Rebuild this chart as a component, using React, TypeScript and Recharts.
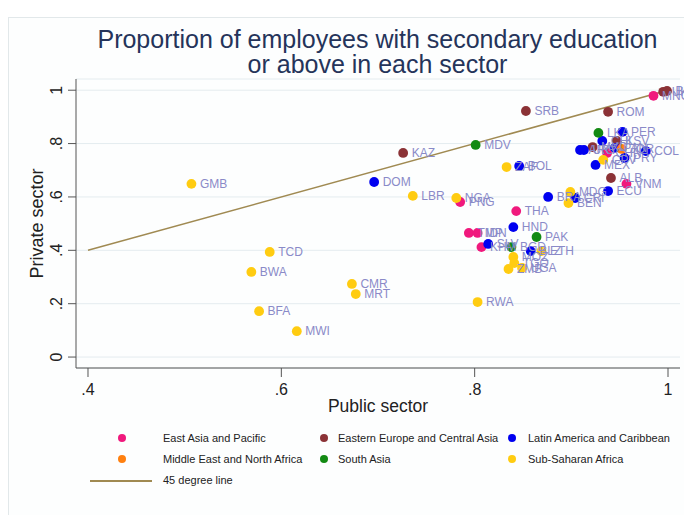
import React from "react";
import {
  ScatterChart,
  Scatter,
  XAxis,
  YAxis,
  CartesianGrid,
  ReferenceLine,
  LabelList,
} from "recharts";

type Pt = [string, number, number];

const eastAsiaPacific: Pt[] = [
  ["MNG", 0.985, 0.979],
  ["VNM", 0.957, 0.649],
  ["THA", 0.843, 0.547],
  ["PNG", 0.785, 0.581],
  ["TMP", 0.794, 0.465],
  ["IDN", 0.803, 0.465],
  ["KHM", 0.807, 0.412],
  ["CHN", 0.937, 0.765],
];
const easternEurope: Pt[] = [
  ["SRB", 0.853, 0.922],
  ["ROM", 0.938, 0.919],
  ["KAZ", 0.726, 0.765],
  ["ALB", 0.941, 0.671],
  ["MKD", 0.922, 0.787],
  ["KSV", 0.947, 0.81],
  ["UKR", 0.995, 0.994],
  ["BLR", 0.999, 0.997],
];
const latinAmerica: Pt[] = [
  ["DOM", 0.696, 0.656],
  ["BOL", 0.846, 0.716],
  ["BRA", 0.876, 0.6],
  ["CRI", 0.904, 0.596],
  ["ECU", 0.938, 0.622],
  ["MEX", 0.925, 0.72],
  ["HND", 0.84, 0.487],
  ["SLV", 0.814, 0.424],
  ["BLZ", 0.858, 0.397],
  ["PER", 0.953, 0.844],
  ["CHL", 0.932, 0.81],
  ["ARG", 0.909, 0.776],
  ["URY", 0.913, 0.776],
  ["PAN", 0.945, 0.784],
  ["COL", 0.977, 0.772],
  ["PRY", 0.955, 0.746],
];
const middleEast: Pt[] = [["JOR", 0.952, 0.78]];
const southAsia: Pt[] = [
  ["MDV", 0.801, 0.795],
  ["LKA", 0.928, 0.84],
  ["PAK", 0.864, 0.45],
  ["BGD", 0.838, 0.412],
];
const subSaharan: Pt[] = [
  ["GMB", 0.507, 0.649],
  ["LBR", 0.736, 0.604],
  ["NGA", 0.781, 0.596],
  ["ZAF", 0.833, 0.712],
  ["MDG", 0.899, 0.619],
  ["BEN", 0.897, 0.577],
  ["CPV", 0.933, 0.739],
  ["ETH", 0.869, 0.397],
  ["MOZ", 0.84, 0.375],
  ["TGO", 0.841, 0.352],
  ["ZMB", 0.835, 0.33],
  ["UGA", 0.849, 0.334],
  ["RWA", 0.803, 0.206],
  ["TCD", 0.588, 0.394],
  ["BWA", 0.569, 0.319],
  ["CMR", 0.673, 0.274],
  ["MRT", 0.677, 0.236],
  ["BFA", 0.577, 0.172],
  ["MWI", 0.616, 0.097],
];

const diagonal = [
  { x: 0.4, y: 0.4 },
  { x: 1, y: 1 },
];

const xTicks = [0.4, 0.6, 0.8, 1];
const yTicks = [0, 0.2, 0.4, 0.6, 0.8, 1];
const xDomain: [number, number] = [0.3876, 1.0124];
const yDomain: [number, number] = [-0.041, 1.042];

const series = [
  { name: "East Asia and Pacific", data: eastAsiaPacific, color: "#f0197d" },
  { name: "Eastern Europe and Central Asia", data: easternEurope, color: "#8b3236" },
  { name: "Latin America and Caribbean", data: latinAmerica, color: "#0000f0" },
  { name: "Middle East and North Africa", data: middleEast, color: "#ff8010" },
  { name: "South Asia", data: southAsia, color: "#138a13" },
  { name: "Sub-Saharan Africa", data: subSaharan, color: "#ffcc11" },
];

const FONT = "Arial, 'Liberation Sans', sans-serif";
const LABEL_COLOR = "#8a8ac8";
const LINE_COLOR = "#a08a52";

const fmt = (v: number) => {
  if (v === 0) return "0";
  if (v === 1) return "1";
  return "." + String(Math.round(v * 10));
};

const YTick = (props: any) => {
  const { x, y, payload } = props;
  const bx = x - 4;
  return (
    <text
      x={bx}
      y={y}
      transform={`rotate(-90, ${bx}, ${y})`}
      textAnchor="middle"
      fontSize={16}
      fill="#222"
      fontFamily={FONT}
    >
      {fmt(payload.value)}
    </text>
  );
};

const XTick = (props: any) => {
  const { x, y, payload } = props;
  return (
    <text
      x={x}
      y={y + 16}
      textAnchor="middle"
      fontSize={16}
      fill="#222"
      fontFamily={FONT}
    >
      {fmt(payload.value)}
    </text>
  );
};

const legendCols = [
  { dot: 122, text: 163 },
  { dot: 324, text: 338 },
  { dot: 512, text: 528 },
];
const legendRows = [438, 459];

export default function App() {
  return (
    <div
      style={{
        position: "absolute",
        left: 0,
        top: 0,
        width: 684,
        height: 515,
        background: "#fff",
        overflow: "hidden",
        fontFamily: FONT,
      }}
    >
      <div
        style={{
          position: "absolute",
          left: 8,
          top: 17,
          right: 0,
          bottom: 0,
          borderLeft: "1px solid #e2e8ea",
          borderTop: "1px solid #e2e8ea",
          background: "#fdfefe",
        }}
      />
      <div
        style={{
          position: "absolute",
          left: 0,
          width: 755,
          top: 27,
          textAlign: "center",
          fontSize: 25,
          lineHeight: "25px",
          color: "#25345a",
        }}
      >
        Proportion of employees with secondary education
        <br />
        or above in each sector
      </div>
      <div style={{ position: "absolute", left: 0, top: 0 }}>
        <ScatterChart
          width={684}
          height={420}
          margin={{ top: 79, right: 4, bottom: 22, left: 16 }}
        >
          <CartesianGrid
            horizontal={true}
            vertical={false}
            stroke="#e4ecef"
            strokeWidth={1}
          />
          <XAxis
            type="number"
            dataKey="x"
            domain={xDomain}
            ticks={xTicks}
            allowDataOverflow
            height={30}
            tickSize={9}
            tickLine={{ stroke: "#555" }}
            axisLine={{ stroke: "#555" }}
            tick={<XTick />}
            label={{
              value: "Public sector",
              position: "bottom",
              offset: 2,
              fontSize: 17.5,
              fill: "#222",
              fontFamily: FONT,
            }}
          />
          <YAxis
            type="number"
            dataKey="y"
            domain={yDomain}
            ticks={yTicks}
            allowDataOverflow
            width={60}
            tickSize={8}
            tickMargin={2}
            tickLine={{ stroke: "#555" }}
            axisLine={{ stroke: "#555" }}
            tick={<YTick />}
            label={{
              value: "Private sector",
              angle: -90,
              position: "center",
              dx: -9,
              fontSize: 18,
              fill: "#222",
              fontFamily: FONT,
            }}
          />
          <ReferenceLine
            segment={diagonal}
            stroke={LINE_COLOR}
            strokeWidth={1.5}
            ifOverflow="visible"
          />
          {series.map((s) => (
            <Scatter
              key={s.name}
              name={s.name}
              data={s.data.map(([name, x, y]) => ({ name, x, y }))}
              isAnimationActive={false}
              shape={(p: any) => (
                <circle cx={p.cx} cy={p.cy} r={4.9} fill={s.color} />
              )}
            >
              <LabelList
                dataKey="name"
                position="right"
                offset={4}
                fill={LABEL_COLOR}
                fontSize={12}
                fontFamily={FONT}
              />
            </Scatter>
          ))}
        </ScatterChart>
      </div>
      {series.map((s, i) => {
        const col = legendCols[i % 3];
        const row = legendRows[Math.floor(i / 3)];
        return (
          <React.Fragment key={s.name}>
            <div
              style={{
                position: "absolute",
                left: col.dot - 4,
                top: row - 4,
                width: 8,
                height: 8,
                borderRadius: 4,
                background: s.color,
              }}
            />
            <div
              style={{
                position: "absolute",
                left: col.text,
                top: row - 7,
                fontSize: 11,
                lineHeight: "14px",
                color: "#222",
                whiteSpace: "nowrap",
              }}
            >
              {s.name}
            </div>
          </React.Fragment>
        );
      })}
      <div
        style={{
          position: "absolute",
          left: 90,
          top: 480,
          width: 62,
          height: 0,
          borderTop: `2px solid ${LINE_COLOR}`,
        }}
      />
      <div
        style={{
          position: "absolute",
          left: 163,
          top: 473,
          fontSize: 11,
          lineHeight: "14px",
          color: "#222",
        }}
      >
        45 degree line
      </div>
    </div>
  );
}
